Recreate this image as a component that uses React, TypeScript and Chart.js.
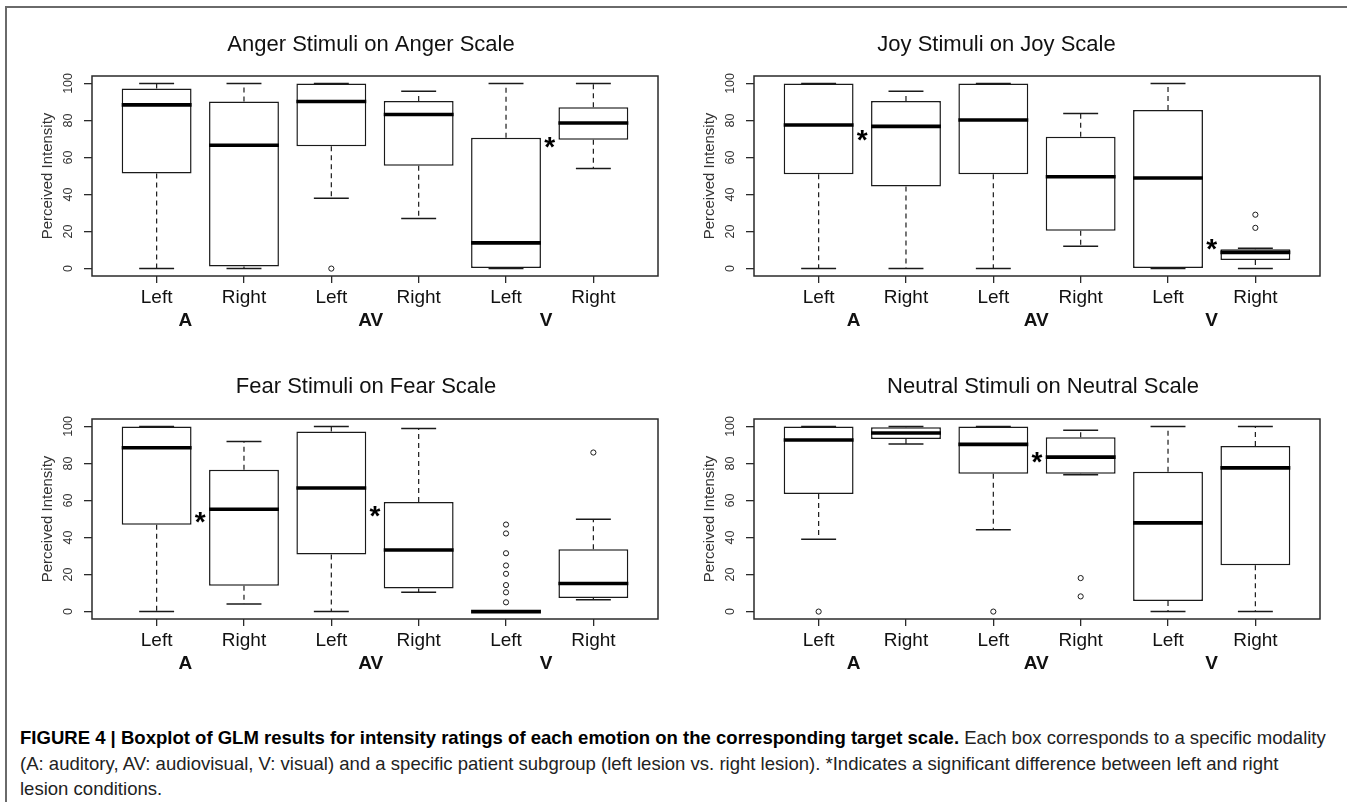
import React, { useEffect, useRef } from 'react';
import { Chart, registerables } from 'chart.js';

Chart.register(...registerables);

const FONT = '"Liberation Sans", Arial, Helvetica, sans-serif';

// ---------- data ----------
const CATEGORIES = ['Left', 'Right', 'Left', 'Right', 'Left', 'Right'];
const GROUPS = ['A', 'AV', 'V'];
const Y_TICKS = [0, 20, 40, 60, 80, 100];

const ANGER_MIN = [0, 0, 38, 27, 0, 54];
const ANGER_Q1 = [51.4, 1.1, 66.1, 55.5, 0, 69.6];
const ANGER_MED = [88.4, 66.6, 90.2, 83.2, 13.9, 78.6];
const ANGER_Q3 = [97.3, 90.2, 100, 90.5, 70.7, 87.1];
const ANGER_MAX = [100, 100, 100, 95.7, 100, 100];
const ANGER_OUT = [[], [], [0], [], [], []];
const ANGER_SIG_X = [5.5];
const ANGER_SIG_Y = [68];

const JOY_MIN = [0, 0, 0, 12, 0, 0];
const JOY_Q1 = [50.9, 44.3, 50.9, 20.4, 0, 4.6];
const JOY_MED = [77.5, 76.8, 80.2, 49.6, 48.9, 8.75];
const JOY_Q3 = [100, 90.5, 100, 71.25, 85.7, 10.5];
const JOY_MAX = [100, 95.7, 100, 83.75, 100, 11];
const JOY_OUT = [[], [], [], [], [], [29.1, 22]];
const JOY_SIG_X = [1.5, 5.5];
const JOY_SIG_Y = [72, 13];

const FEAR_MIN = [0, 4.1, 0, 10.4, 0, 6.4];
const FEAR_Q1 = [46.9, 14, 30.8, 12.5, 0, 7.3];
const FEAR_MED = [88.5, 55.3, 66.7, 33.3, 0, 15.2];
const FEAR_Q3 = [100, 76.6, 97.3, 59.2, 0, 33.6];
const FEAR_MAX = [100, 91.8, 100, 98.9, 0, 49.9];
const FEAR_OUT = [[], [], [], [], [47, 42.2, 31.5, 24.9, 20.4, 14.3, 10.4, 5], [85.9]];
const FEAR_SIG_X = [1.5, 3.5];
const FEAR_SIG_Y = [51, 54.3];

const NEUTRAL_MIN = [39, 90.5, 44.2, 73.9, 0, 0];
const NEUTRAL_Q1 = [63.5, 93.2, 74.4, 74.4, 5.7, 25];
const NEUTRAL_MED = [92.7, 96.4, 90.3, 83.4, 47.9, 77.6];
const NEUTRAL_Q3 = [100, 99.5, 100, 94.1, 75.5, 89.4];
const NEUTRAL_MAX = [100, 100, 100, 97.9, 100, 100];
const NEUTRAL_OUT = [[0], [], [0], [18.1, 8.2], [], []];
const NEUTRAL_SIG_X = [3.5];
const NEUTRAL_SIG_Y = [83];

// ---------- layout ----------
const LEFT_GROUP_POS = [1.33, 3.45, 5.46];
const RIGHT_GROUP_POS = [1.4, 3.49, 5.5];

type Box = { x: number; y: number; w: number; h: number };
type Plot = { l: number; t: number; r: number; b: number };
type Spec = {
  title: string;
  min: number[]; q1: number[]; med: number[]; q3: number[]; max: number[];
  out: number[][]; sigX: number[]; sigY: number[];
  canvas: Box; plot: Plot; titleX: number; titleY: number; groupPos: number[];
};

const PANELS: Spec[] = [
  {
    title: 'Anger Stimuli on Anger Scale',
    min: ANGER_MIN, q1: ANGER_Q1, med: ANGER_MED, q3: ANGER_Q3, max: ANGER_MAX, out: ANGER_OUT,
    sigX: ANGER_SIG_X, sigY: ANGER_SIG_Y,
    canvas: { x: 10, y: 12, w: 660, h: 336 }, plot: { l: 92, t: 76, r: 658, b: 276 },
    titleX: 371, titleY: 45, groupPos: LEFT_GROUP_POS,
  },
  {
    title: 'Joy Stimuli on Joy Scale',
    min: JOY_MIN, q1: JOY_Q1, med: JOY_MED, q3: JOY_Q3, max: JOY_MAX, out: JOY_OUT,
    sigX: JOY_SIG_X, sigY: JOY_SIG_Y,
    canvas: { x: 676, y: 12, w: 664, h: 336 }, plot: { l: 754, t: 76, r: 1320, b: 276 },
    titleX: 996.5, titleY: 45, groupPos: RIGHT_GROUP_POS,
  },
  {
    title: 'Fear Stimuli on Fear Scale',
    min: FEAR_MIN, q1: FEAR_Q1, med: FEAR_MED, q3: FEAR_Q3, max: FEAR_MAX, out: FEAR_OUT,
    sigX: FEAR_SIG_X, sigY: FEAR_SIG_Y,
    canvas: { x: 10, y: 352, w: 660, h: 340 }, plot: { l: 92, t: 419, r: 658, b: 619 },
    titleX: 366, titleY: 386.5, groupPos: LEFT_GROUP_POS,
  },
  {
    title: 'Neutral Stimuli on Neutral Scale',
    min: NEUTRAL_MIN, q1: NEUTRAL_Q1, med: NEUTRAL_MED, q3: NEUTRAL_Q3, max: NEUTRAL_MAX, out: NEUTRAL_OUT,
    sigX: NEUTRAL_SIG_X, sigY: NEUTRAL_SIG_Y,
    canvas: { x: 676, y: 352, w: 664, h: 340 }, plot: { l: 754, t: 419, r: 1320, b: 619 },
    titleX: 1043, titleY: 386.5, groupPos: RIGHT_GROUP_POS,
  },
];

const INK = '#1a1a1a';

function halfPx(chart: any, frac: number) {
  const s = chart.scales.x;
  return Math.abs(s.getPixelForValue(1 + frac) - s.getPixelForValue(1));
}

function Panel({ spec }: { spec: Spec }) {
  const ref = useRef<HTMLCanvasElement>(null);
  const c = spec.canvas;
  const p = spec.plot;

  useEffect(() => {
    const whisker: any[] = [];
    const caps: any[] = [];
    const boxes: any[] = [];
    const meds: any[] = [];
    const outs: any[] = [];
    spec.q1.forEach((_, i) => {
      const x = i + 1;
      whisker.push({ x, y: spec.q3[i] }, { x, y: spec.max[i] }, { x, y: null });
      whisker.push({ x, y: spec.q1[i] }, { x, y: spec.min[i] }, { x, y: null });
      caps.push({ x, y: spec.max[i] }, { x, y: spec.min[i] });
      boxes.push({ x, y: [spec.q1[i], spec.q3[i]] });
      meds.push({ x, y: spec.med[i] });
      spec.out[i].forEach((v) => outs.push({ x, y: v }));
    });

    const textPlugin = {
      id: 'rtext',
      afterDraw(chart: any) {
        const ctx = chart.ctx;
        const ca = chart.chartArea;
        const xs = chart.scales.x;
        const ys = chart.scales.y;
        ctx.save();
        // plot frame
        ctx.strokeStyle = '#2a2a2a';
        ctx.lineWidth = 1.5;
        ctx.strokeRect(ca.left, ca.top, ca.right - ca.left, ca.bottom - ca.top);

        // title
        ctx.fillStyle = '#111';
        ctx.font = `22px ${FONT}`;
        ctx.textAlign = 'center';
        ctx.textBaseline = 'middle';
        ctx.fillText(spec.title, spec.titleX - c.x, spec.titleY - c.y);

        // y tick labels (rotated)
        ctx.fillStyle = '#333';
        ctx.font = `12.5px ${FONT}`;
        Y_TICKS.forEach((v) => {
          const y = ys.getPixelForValue(v);
          ctx.save();
          ctx.translate(ca.left - 23, y);
          ctx.rotate(-Math.PI / 2);
          ctx.fillText(String(v), 0, 0);
          ctx.restore();
        });
        // y axis title
        ctx.font = `15px ${FONT}`;
        ctx.save();
        ctx.translate(ca.left - 44, (ca.top + ca.bottom) / 2);
        ctx.rotate(-Math.PI / 2);
        ctx.fillText('Perceived Intensity', 0, 0);
        ctx.restore();

        // x tick labels
        ctx.fillStyle = '#111';
        ctx.font = `19px ${FONT}`;
        CATEGORIES.forEach((lab, i) => {
          ctx.fillText(lab, xs.getPixelForValue(i + 1), ca.bottom + 21.5);
        });
        // group labels
        ctx.font = `bold 19px ${FONT}`;
        GROUPS.forEach((g, i) => {
          ctx.fillText(g, xs.getPixelForValue(spec.groupPos[i]), ca.bottom + 45);
        });

        // significance asterisks
        ctx.fillStyle = '#000';
        ctx.font = `bold 28px ${FONT}`;
        ctx.textBaseline = 'alphabetic';
        const m = ctx.measureText('*');
        const a = m.actualBoundingBoxAscent || 20;
        const d = m.actualBoundingBoxDescent || -9;
        spec.sigX.forEach((sx, i) => {
          const cy = ys.getPixelForValue(spec.sigY[i]);
          ctx.fillText('*', xs.getPixelForValue(sx), cy + (a - d) / 2);
        });
        ctx.restore();
      },
    };

    const gridCommon = {
      drawOnChartArea: false,
      drawTicks: true,
      color: '#2a2a2a',
      lineWidth: 1.3,
      offset: false,
    };

    const chart = new Chart(ref.current as HTMLCanvasElement, {
      type: 'bar',
      data: {
        datasets: [
          {
            type: 'line',
            data: whisker,
            borderColor: INK,
            borderWidth: 1.2,
            borderDash: [5, 4],
            pointRadius: 0,
            spanGaps: false,
            fill: false,
            order: 5,
          } as any,
          {
            type: 'bar',
            data: boxes,
            backgroundColor: '#ffffff',
            borderColor: INK,
            borderWidth: 1.5,
            borderSkipped: false,
            barPercentage: 0.8,
            categoryPercentage: 1,
            order: 4,
          } as any,
          {
            type: 'scatter',
            data: caps,
            pointStyle: 'line',
            radius: (ctx: any) => halfPx(ctx.chart, 0.2),
            borderColor: INK,
            borderWidth: 1.5,
            order: 3,
          } as any,
          {
            type: 'scatter',
            data: meds,
            pointStyle: 'line',
            radius: (ctx: any) => halfPx(ctx.chart, 0.4),
            borderColor: '#000',
            borderWidth: 3.6,
            order: 2,
          } as any,
          {
            type: 'scatter',
            data: outs,
            pointStyle: 'circle',
            radius: 2.6,
            borderColor: INK,
            backgroundColor: '#fff',
            borderWidth: 1,
            order: 1,
          } as any,
        ],
      },
      options: {
        animation: false,
        responsive: false,
        devicePixelRatio: 1,
        events: [],
        layout: {
          padding: {
            left: p.l - c.x,
            top: p.t - c.y,
            right: c.x + c.w - p.r,
            bottom: c.y + c.h - p.b,
          },
        },
        plugins: {
          legend: { display: false },
          title: { display: false },
          tooltip: { enabled: false },
        },
        scales: {
          x: {
            type: 'linear',
            min: 0.26,
            max: 6.74,
            offset: false,
            afterBuildTicks: (s: any) => {
              s.ticks = CATEGORIES.map((_, i) => ({ value: i + 1 }));
            },
            afterFit: (s: any) => {
              s.height = 0;
            },
            ticks: { display: false },
            grid: { ...gridCommon, tickLength: 7 },
            border: { display: false },
          },
          y: {
            type: 'linear',
            min: -4,
            max: 104,
            afterBuildTicks: (s: any) => {
              s.ticks = Y_TICKS.map((v) => ({ value: v }));
            },
            afterFit: (s: any) => {
              s.width = 0;
            },
            ticks: { display: false },
            grid: { ...gridCommon, tickLength: 8 },
            border: { display: false },
          },
        },
      } as any,
      plugins: [textPlugin],
    });
    return () => chart.destroy();
  }, []);

  return (
    <canvas
      ref={ref}
      width={c.w}
      height={c.h}
      style={{ position: 'absolute', left: c.x, top: c.y, width: c.w, height: c.h }}
    />
  );
}

export default function App() {
  return (
    <div
      style={{
        position: 'fixed',
        left: 0,
        top: 0,
        width: 1347,
        height: 802,
        background: '#fff',
        overflow: 'hidden',
        fontFamily: FONT,
      }}
    >
      <div
        style={{
          position: 'absolute',
          left: 5,
          top: 6,
          width: 1400,
          height: 900,
          borderTop: '2px solid #6a6a6a',
          borderLeft: '2px solid #6a6a6a',
        }}
      />
      {PANELS.map((s, i) => (
        <Panel key={i} spec={s} />
      ))}
      <div
        style={{
          position: 'absolute',
          left: 20,
          top: 725,
          fontSize: 18.55,
          lineHeight: '25.5px',
          color: '#222',
          whiteSpace: 'nowrap',
        }}
      >
        <div>
          <b style={{ color: '#000' }}>
            FIGURE 4 | Boxplot of GLM results for intensity ratings of each emotion on the corresponding target scale.
          </b>{' '}
          Each box corresponds to a specific modality
        </div>
        <div>
          (A: auditory, AV: audiovisual, V: visual) and a specific patient subgroup (left lesion vs. right lesion). *Indicates a significant difference between left and right
        </div>
        <div>lesion conditions.</div>
      </div>
    </div>
  );
}
